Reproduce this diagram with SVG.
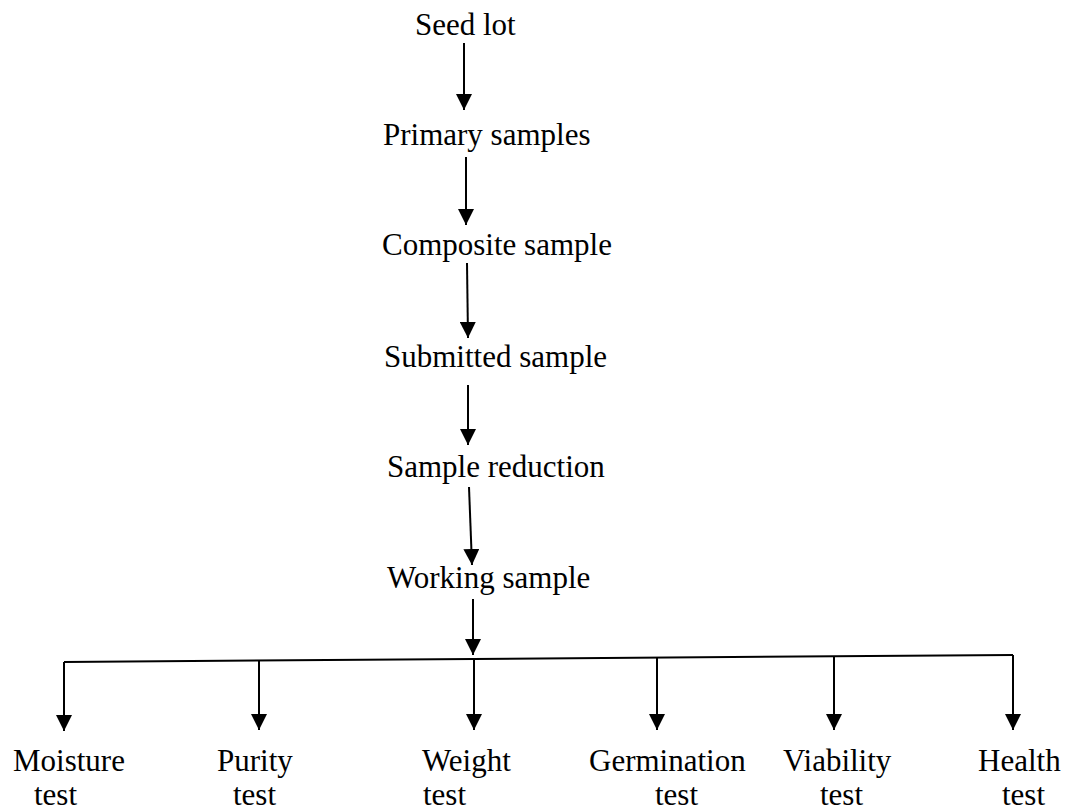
<svg xmlns="http://www.w3.org/2000/svg" width="1070" height="812" viewBox="0 0 1070 812">
<style>
text{font-family:"Liberation Serif","Times New Roman",serif;font-size:31px;fill:#000}
.c{stroke:#000;stroke-width:2;fill:none}
</style>
<defs>
<marker id="ah" markerUnits="userSpaceOnUse" markerWidth="16" markerHeight="16" refX="16" refY="8" orient="auto" viewBox="0 0 16 16">
<path d="M0,0 L16,8 L0,16 Z" fill="#000"/>
</marker>
</defs>
<rect width="1070" height="812" fill="#fff"/>
<g id="connectors">
<line class="c" x1="464" y1="43" x2="464" y2="110" marker-end="url(#ah)"/>
<line class="c" x1="466" y1="157" x2="466" y2="225" marker-end="url(#ah)"/>
<line class="c" x1="467" y1="263" x2="468" y2="338" marker-end="url(#ah)"/>
<line class="c" x1="468" y1="385" x2="468" y2="445" marker-end="url(#ah)"/>
<line class="c" x1="469" y1="487" x2="472" y2="565" marker-end="url(#ah)"/>
<line class="c" x1="473" y1="599" x2="473" y2="655" marker-end="url(#ah)"/>
<line class="c" x1="64" y1="662" x2="1013" y2="655"/>
<line class="c" x1="64" y1="662" x2="64" y2="731" marker-end="url(#ah)"/>
<line class="c" x1="259" y1="660.6" x2="259" y2="730" marker-end="url(#ah)"/>
<line class="c" x1="474" y1="659" x2="474" y2="730" marker-end="url(#ah)"/>
<line class="c" x1="657" y1="657.6" x2="657" y2="730" marker-end="url(#ah)"/>
<line class="c" x1="834" y1="656.3" x2="834" y2="730" marker-end="url(#ah)"/>
<line class="c" x1="1013" y1="655" x2="1013" y2="730" marker-end="url(#ah)"/>
</g>
<g id="seed-lot"><text x="415" y="35">Seed lot</text></g>
<g id="primary-samples"><text x="383" y="145">Primary samples</text></g>
<g id="composite-sample"><text x="382" y="255">Composite sample</text></g>
<g id="submitted-sample"><text x="384" y="367">Submitted sample</text></g>
<g id="sample-reduction"><text x="387" y="477">Sample reduction</text></g>
<g id="working-sample"><text x="387" y="588">Working sample</text></g>
<g id="moisture-test"><text x="13" y="771">Moisture</text><text x="34" y="805">test</text></g>
<g id="purity-test"><text x="217" y="771">Purity</text><text x="233" y="805">test</text></g>
<g id="weight-test"><text x="422" y="771">Weight</text><text x="423" y="805">test</text></g>
<g id="germination-test"><text x="589" y="771">Germination</text><text x="655" y="805">test</text></g>
<g id="viability-test"><text x="783" y="771">Viability</text><text x="820" y="805">test</text></g>
<g id="health-test"><text x="978" y="771">Health</text><text x="1002" y="805">test</text></g>
</svg>
